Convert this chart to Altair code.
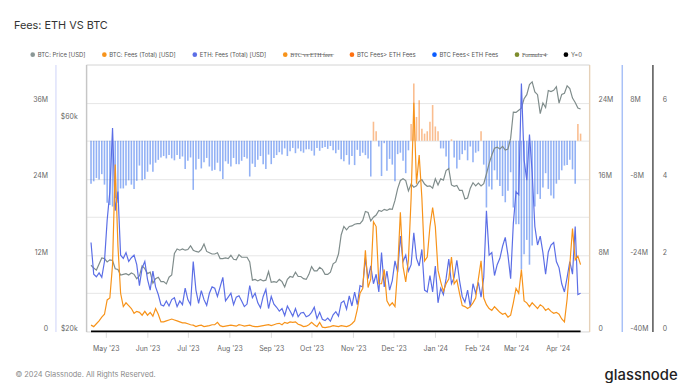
import altair as alt
import pandas as pd

START = "2023-04-20"  # first sample; one sample every 2 days

# BTC price, thousand USD
btc_price_k = [
    28.2, 27.8, 27.5, 28.4, 29.3, 29.2, 28.7, 29.0, 28.9, 27.7,
    27.6, 26.8, 26.9, 27.0, 26.8, 27.1, 26.9, 26.3, 26.7, 28.1,
    27.7, 27.0, 27.2, 25.7, 26.3, 26.5, 25.9, 25.9, 25.6, 26.5,
    26.8, 30.0, 30.7, 30.5, 30.7, 30.5, 30.6, 31.2, 30.5, 30.3,
    30.2, 30.6, 31.5, 30.3, 30.1, 29.9, 29.9, 30.1, 29.2, 29.2,
    29.3, 29.2, 29.7, 29.1, 29.0, 29.8, 29.4, 29.4, 29.4, 28.7,
    26.1, 26.2, 26.0, 26.2, 26.0, 26.1, 27.3, 25.8, 25.9, 25.8,
    26.2, 25.9, 25.2, 26.2, 26.6, 26.5, 27.2, 26.6, 26.6, 26.3,
    26.2, 26.9, 28.0, 27.4, 27.4, 27.9, 27.6, 26.9, 26.9, 27.2,
    28.4, 28.7, 29.9, 33.0, 34.5, 33.9, 34.5, 34.6, 34.9, 35.0,
    35.0, 35.6, 37.3, 37.1, 35.5, 36.2, 36.6, 37.5, 37.3, 37.7,
    37.5, 37.8, 37.7, 39.5, 42.0, 43.8, 44.2, 43.8, 41.5, 43.0,
    42.3, 42.6, 43.6, 44.0, 43.0, 42.5, 42.6, 42.1, 44.2, 42.8,
    44.2, 43.9, 46.1, 46.6, 42.8, 42.5, 42.7, 41.6, 41.6, 39.8,
    40.0, 42.1, 43.3, 42.6, 43.2, 42.6, 43.1, 45.3, 47.8, 50.0,
    51.8, 52.1, 51.6, 52.3, 51.3, 51.6, 54.5, 62.5, 62.4, 63.1,
    63.8, 67.0, 68.4, 72.1, 73.1, 69.4, 68.4, 62.0, 65.5, 64.0,
    69.9, 69.5, 70.0, 71.3, 65.5, 68.5, 68.9, 71.6, 70.6, 67.2,
    65.7, 63.8, 63.5,
]

# BTC fees (total), million USD
btc_fees_m = [
    0.66, 0.5, 0.8, 1.1, 1.5, 1.8, 3.3, 3.5, 7.0, 17.5,
    9.0, 4.0, 2.6, 3.0, 2.7, 2.4, 1.9, 2.1, 2.0, 1.7,
    2.1, 1.7, 2.0, 1.6, 2.4, 1.8, 1.0, 1.0, 1.1, 1.2,
    1.3, 1.2, 1.1, 1.0, 0.9, 0.9, 0.8, 0.7, 0.66, 0.5,
    0.6, 0.65, 0.5, 0.55, 0.6, 0.7, 0.7, 0.95, 0.6, 0.5,
    0.55, 0.6, 0.65, 0.6, 0.55, 0.7, 0.65, 0.55, 0.6, 0.65,
    0.55, 0.5, 0.5, 0.55, 0.6, 0.65, 0.7, 0.6, 0.7, 0.8,
    0.85, 0.7, 0.95, 0.85, 1.0, 0.95, 1.0, 0.75, 0.66, 0.5,
    0.55, 0.7, 0.95, 0.7, 0.5, 0.95, 0.45, 0.4, 0.45, 0.5,
    0.6, 0.55, 0.5, 0.6, 0.55, 0.5, 0.6, 0.8, 1.1, 2.3,
    4.0, 4.5, 8.5, 4.6, 5.5, 11.5, 11.0, 5.0, 5.0, 6.5,
    3.2, 2.7, 3.0, 2.6, 6.5, 12.5, 6.8, 5.2, 7.5, 14.0,
    24.0, 15.5, 18.5, 14.0, 7.4, 7.8, 11.0, 13.0, 11.0, 6.4,
    5.2, 4.2, 5.0, 5.5, 7.8, 5.0, 5.4, 4.0, 2.7, 2.6,
    2.4, 2.6, 3.0, 3.5, 5.5, 7.4, 3.5, 2.8, 2.4, 2.2,
    2.6, 2.3, 2.0, 1.8, 1.9, 1.5, 1.7, 3.0, 4.5, 4.0,
    6.5, 3.2, 3.0, 2.6, 3.0, 2.7, 2.4, 2.8, 2.6, 2.2,
    2.4, 2.1, 1.9, 2.0, 1.8, 1.3, 1.0, 3.4, 7.0, 10.8,
    7.5, 7.9, 7.0,
]

# ETH fees (total), million USD
eth_fees_m = [
    14.0, 9.0, 8.6, 9.2, 8.5, 11.0, 17.5, 22.0, 32.0, 19.0,
    22.0, 12.0, 11.5, 12.4, 11.0, 11.6, 12.0, 10.5, 7.2, 10.0,
    11.0, 8.2, 6.5, 9.5, 7.0, 5.8, 4.2, 4.0, 4.8, 4.0,
    5.0, 5.3, 3.9, 4.8, 4.2, 6.8, 5.0, 4.2, 11.0, 6.5,
    4.4, 6.4, 5.0, 4.1, 6.0, 7.0, 6.8, 5.5, 7.0, 8.5,
    4.8, 5.4, 6.0, 4.2, 5.4, 5.6, 4.8, 3.9, 4.3, 7.2,
    5.3, 6.0, 4.5, 3.7, 5.5, 6.6, 3.6, 5.5, 4.3, 3.8,
    3.2, 3.6, 2.5, 4.0, 3.2, 2.4, 3.6, 2.3, 2.9, 3.0,
    2.3, 2.5, 3.0, 3.8, 2.0, 3.0, 1.9, 1.7, 2.1, 1.6,
    2.6, 3.1, 2.4, 4.5, 4.8, 3.5, 5.6, 4.0, 6.2, 4.2,
    7.2, 7.0, 11.5, 8.3, 10.3, 7.5, 9.0, 6.2, 12.4, 7.0,
    9.5, 6.5, 8.0, 11.1, 9.3, 15.0, 11.0, 12.0, 9.5, 10.5,
    15.5, 11.5, 10.3, 12.9, 6.5, 6.2, 8.8, 6.2, 10.3, 4.5,
    6.8, 5.8, 8.3, 11.4, 7.5, 8.5, 11.2, 8.0, 5.5, 4.6,
    6.5, 3.8, 7.5, 6.0, 7.7, 5.4, 8.5, 19.0, 12.0, 12.4,
    8.8, 10.5, 11.5, 13.4, 14.8, 12.0, 8.3, 17.0, 22.0, 21.5,
    39.0, 27.0, 23.8, 31.0, 25.0, 16.5, 13.6, 15.0, 12.4, 9.0,
    12.5, 13.6, 14.0, 11.0, 10.0, 7.5, 6.2, 8.5, 11.0, 9.0,
    16.5, 5.8, 6.0,
]

# BTC fees minus ETH fees (bars), million USD
fee_diff_m = [
    -9.0, -8.5, -7.8, -8.1, -7.0, -9.2, -13.0, -13.5, -13.8, -12.0,
    -13.0, -10.0, -10.0, -9.4, -8.3, -9.2, -10.1, -8.4, -5.2, -8.3,
    -8.0, -6.5, -5.0, -6.5, -4.6, -4.0, -3.5, -3.2, -3.7, -3.0,
    -3.7, -4.1, -3.0, -3.8, -3.3, -5.9, -4.2, -3.5, -10.3, -6.0,
    -3.8, -5.8, -4.5, -3.6, -5.4, -6.3, -6.1, -4.6, -6.4, -8.0,
    -4.3, -4.8, -5.4, -3.6, -4.9, -4.9, -4.2, -3.4, -3.7, -7.5,
    -4.8, -5.5, -4.0, -3.2, -4.9, -5.9, -2.9, -4.9, -3.6, -3.0,
    -2.4, -2.9, -1.6, -3.2, -2.2, -1.5, -2.6, -1.6, -2.2, -2.5,
    -1.8, -1.8, -2.1, -3.1, -1.5, -2.1, -1.5, -1.3, -1.7, -1.1,
    -2.0, -2.6, -1.9, -3.9, -4.3, -3.0, -5.0, -3.2, -5.1, -1.9,
    -3.2, -2.5, -3.0, -3.7, -7.5, 4.0, 2.0, -1.2, -7.4, -0.5,
    -6.3, -3.8, -5.0, -8.5, -2.8, -2.5, -4.2, -6.8, -2.0, 3.5,
    12.0, 5.0, 8.5, 2.5, 1.5, 2.0, 4.0, 7.5, 3.0, 2.0,
    -1.6, -1.6, -3.3, -5.9, 0.3, -3.5, -5.8, -4.0, -2.8, -2.0,
    -4.1, -1.2, -4.5, -2.5, -2.2, 2.0, -5.0, -14.0, -9.6, -10.2,
    -6.2, -8.2, -9.5, -11.6, -12.9, -10.5, -6.6, -14.0, -17.5, -17.5,
    -27.0, -23.8, -20.8, -26.0, -22.0, -13.8, -11.2, -12.2, -9.8, -6.8,
    -10.1, -11.5, -12.1, -9.0, -8.2, -6.2, -5.2, -5.1, -4.0, -6.0,
    -9.0, 3.5, 1.5,
]

# "Y=0" series
y_zero = [0] * len(btc_price_k)

legend_names = [
    "BTC: Price [USD]",
    "BTC: Fees (Total) [USD]",
    "ETH: Fees (Total) [USD]",
    "BTC vs ETH fees",
    "BTC Fees> ETH Fees",
    "BTC Fees< ETH Fees",
    "Formula 4",
    "Y=0",
]
legend_colors = ["#8A9796", "#F7931A", "#5B6EE6", "#F7931A",
                 "#FF6F0F", "#0A5CFF", "#7D8C2C", "#000000"]
hidden = {"BTC vs ETH fees", "Formula 4"}


def strike(s):
    return "".join(c + "\u0336" for c in s)


legend_labels = [strike(n) if n in hidden else n for n in legend_names]

dates = pd.date_range(START, periods=len(btc_price_k), freq="2D")
df = pd.DataFrame({
    "date": dates.strftime("%Y-%m-%d"),
    "price": [v * 1000 for v in btc_price_k],
    "btc": [v * 1e6 for v in btc_fees_m],
    "eth": [v * 1e6 for v in eth_fees_m],
    "diff": [v * 1e6 for v in fee_diff_m],
    "zero": y_zero,
})

FONT = "Inter"
LBL = dict(labelFont=FONT, labelFontSize=7, labelColor="#666666",
           ticks=False, tickSize=0, grid=False, title=None,
           labelOffset=-3, labelFlush=False, labelOverlap=False,
           domainWidth=1.5)

x_enc = alt.X(
    "date:T",
    scale=alt.Scale(type="utc",
                    domain=[alt.DateTime(year=2023, month=4, date=20, utc=True),
                            alt.DateTime(year=2024, month=4, date=20, hours=17, utc=True)]),
    axis=alt.Axis(format="%b '%y", tickCount={"interval": "month", "step": 1},
                  labelFont=FONT, labelFontSize=7, labelColor="#666666",
                  ticks=True, tickSize=6, tickColor="#dddddd", labelPadding=7,
                  domain=False, grid=False, labelFlush=False, labelOverlap=False,
                  title="© 2024 Glassnode. All Rights Reserved.",
                  titleFont=FONT, titleFontSize=7.5, titleFontWeight="normal",
                  titleColor="#8a8a8a", titleAnchor="start", titleAlign="left",
                  titleBaseline="middle", titleX=-72, titleY=44),
)

base = alt.Chart(df).encode(x=x_enc)

bars = base.mark_bar(width=1.6, opacity=0.5).encode(
    y=alt.Y("diff:Q",
            scale=alt.Scale(domain=[-40e6, 16e6], nice=False, zero=False),
            axis=alt.Axis(orient="right", offset=33, labelPadding=8,
                          values=[-40e6, -24e6, -8e6, 8e6],
                          labelExpr="datum.value == 0 ? '0' : (datum.value / 1e6) + 'M'",
                          domainColor="#2563EB", domainOpacity=0.4, **LBL)),
    y2=alt.datum(0),
    color=alt.condition("datum.diff > 0", alt.value("#F57C1F"), alt.value("#2563EB")),
)

price = base.mark_line(color="#7F8C8B", strokeWidth=1.2).encode(
    y=alt.Y("price:Q",
            scale=alt.Scale(type="log", domain=[20000, 80000], nice=False),
            axis=alt.Axis(orient="left", offset=0, labelPadding=9,
                          values=[20000, 60000],
                          labelExpr="'$' + (datum.value / 1000) + 'k'",
                          domainColor="#bbbbbb", domainOpacity=0.7, **LBL)),
)

eth = base.mark_line(color="#5B6EE6", strokeWidth=1.2).encode(
    y=alt.Y("eth:Q",
            scale=alt.Scale(domain=[0, 42e6], nice=False),
            axis=alt.Axis(orient="left", offset=31, labelPadding=8,
                          values=[0, 6e6, 12e6, 18e6, 24e6, 30e6, 36e6, 42e6],
                          labelExpr="datum.value % 12000000 != 0 ? '' : (datum.value == 0 ? '0' : (datum.value / 1e6) + 'M')",
                          domainColor="#5B6EE6", domainOpacity=0.2,
                          **{**LBL, "grid": True},
                          gridColor="#e6e6e6", gridWidth=1)),
)

btc = base.mark_line(color="#F7931A", strokeWidth=1.2).encode(
    y=alt.Y("btc:Q",
            scale=alt.Scale(domain=[0, 28e6], nice=False),
            axis=alt.Axis(orient="right", offset=0, labelPadding=9,
                          values=[0, 8e6, 16e6, 24e6],
                          labelExpr="datum.value == 0 ? '0' : (datum.value / 1e6) + 'M'",
                          domainColor="#F7931A", domainOpacity=0.2, **LBL)),
)

zero = base.mark_line(color="#000000", strokeWidth=1.6).encode(
    y=alt.Y("zero:Q",
            scale=alt.Scale(domain=[0, 7], nice=False),
            axis=alt.Axis(orient="right", offset=64, labelPadding=10,
                          values=[0, 2, 4, 6],
                          domainColor="#333333", domainOpacity=0.85,
                          titleAngle=0, titleX=25, titleY=314,
                          titleAlign="right", titleBaseline="middle",
                          titleFont=FONT, titleFontSize=15, titleFontWeight=500,
                          titleColor="#222222",
                          **{**LBL, "title": "glassnode"})),
)

legend_df = pd.DataFrame({"name": legend_labels})
legend_layer = alt.Chart(legend_df).mark_point(filled=True, size=20, opacity=1).encode(
    color=alt.Color("name:N",
                    scale=alt.Scale(domain=legend_labels, range=legend_colors),
                    legend=alt.Legend(orient="none", legendX=-57, legendY=-13,
                                      direction="horizontal", title=None,
                                      symbolType="circle", symbolSize=22,
                                      symbolStrokeWidth=0, labelFont=FONT,
                                      labelFontSize=6, labelColor="#555555",
                                      labelOffset=2, columnPadding=15.5,
                                      padding=0, labelLimit=0)),
).transform_filter("false")

chart = alt.layer(bars, price, eth, btc, zero, legend_layer).resolve_scale(
    y="independent"
).properties(
    width=509,
    height=270,
    autosize=alt.AutoSizeParams(type="none"),
    padding={"left": 79, "top": 55, "right": 100, "bottom": 50},
    title=alt.TitleParams("Fees: ETH VS BTC", anchor="start", frame="group",
                          dx=-73, offset=15, baseline="middle",
                          font=FONT, fontSize=11, fontWeight="normal", color="#333333"),
).configure_view(stroke=None).configure(background="white")

chart.save("out.html", embed_options={"renderer": "svg", "actions": False})
